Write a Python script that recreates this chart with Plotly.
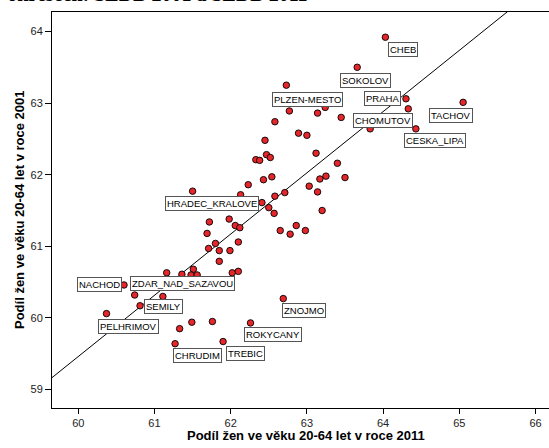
import plotly.graph_objects as go

# ---- data (share of women aged 20-64, %) ----
x2011 = [64.03, 63.66, 64.30, 65.05, 64.43, 63.83, 62.73, 62.41, 60.60, 61.16, 60.81, 60.37,
         62.69, 62.26, 61.90, 61.27,
         64.33, 62.77, 63.14, 63.24, 63.45, 62.58, 62.89, 63.00, 62.45, 63.12, 62.47, 62.52,
         62.33, 62.38, 63.40, 62.54, 62.43, 63.25, 63.17, 63.50, 62.23, 63.03, 61.50, 62.13,
         62.71, 63.14, 62.58, 62.50, 62.57, 63.20, 61.98, 61.72, 61.69, 62.06, 62.12, 62.65,
         62.78, 62.86, 62.98, 61.80, 61.71, 61.85, 61.99, 62.10, 61.85, 61.36, 61.51, 61.48,
         61.56, 62.02, 62.10, 60.74, 61.11, 61.76, 61.49, 61.33]
y2001 = [63.92, 63.50, 63.06, 63.01, 62.64, 62.64, 63.25, 61.61, 60.46, 60.63, 60.17, 60.06,
         60.27, 59.93, 59.67, 59.64,
         62.92, 62.89, 62.86, 62.94, 62.80, 62.74, 62.58, 62.55, 62.48, 62.30, 62.28, 62.24,
         62.21, 62.20, 62.16, 61.97, 61.93, 61.98, 61.94, 61.96, 61.86, 61.84, 61.77, 61.72,
         61.75, 61.76, 61.70, 61.54, 61.46, 61.50, 61.38, 61.34, 61.18, 61.29, 61.26, 61.22,
         61.17, 61.29, 61.22, 61.04, 60.97, 60.94, 60.94, 61.06, 60.79, 60.61, 60.68, 60.60,
         60.60, 60.63, 60.65, 60.32, 60.30, 59.95, 59.94, 59.85]
labels = ["CHEB", "SOKOLOV", "PRAHA", "TACHOV", "CESKA_LIPA", "CHOMUTOV", "PLZEN-MESTO",
          "HRADEC_KRALOVE", "NACHOD", "ZDAR_NAD_SAZAVOU", "SEMILY", "PELHRIMOV",
          "ZNOJMO", "ROKYCANY", "TREBIC", "CHRUDIM"]
# label box offsets from the point (pixels, right / down)
label_dx = [18, 8, -23, -12, 19, 13, 21, -50, -25, 16, 23, 22, 21, 22, 22, 22]
label_dy = [12, 13, 0, 13, 12, -8, 14, 1, 0, 11, 1, 13, 12, 12, 12, 12]

fit_intercept = 8.161
fit_slope = 0.855
x_range = [59.655, 66.177]
y_range = [58.742, 64.272]
x_ticks = [60, 61, 62, 63, 64, 65, 66]
y_ticks = [59, 60, 61, 62, 63, 64]

fig = go.Figure()
fig.add_trace(go.Scatter(
    x=[x_range[0], x_range[1]],
    y=[fit_intercept + fit_slope * x_range[0], fit_intercept + fit_slope * x_range[1]],
    mode="lines", line=dict(color="black", width=1), hoverinfo="skip", showlegend=False))
fig.add_trace(go.Scatter(
    x=x2011, y=y2001, mode="markers",
    marker=dict(size=6.5, color="#e5262b", line=dict(color="black", width=0.9)),
    showlegend=False, cliponaxis=False))

annotations = []
for i, name in enumerate(labels):
    annotations.append(dict(
        x=x2011[i], y=y2001[i], xref="x", yref="y", text=name, showarrow=False,
        xanchor="center", yanchor="middle", xshift=label_dx[i], yshift=-label_dy[i],
        font=dict(family="Arial, Liberation Sans", size=9.5, color="black"),
        bgcolor="white", bordercolor="#555", borderwidth=1, borderpad=1))

annotations.append(dict(
    x=0.511, y=-0.07, xref="paper", yref="paper", showarrow=False,
    text="<b>Podíl žen ve věku 20-64 let v roce 2011</b>", xanchor="center", yanchor="middle",
    font=dict(family="Arial, Liberation Sans", size=13, color="black")))
annotations.append(dict(
    x=-0.0664, y=0.5, xref="paper", yref="paper", showarrow=False, textangle=-90,
    text="<b>Podíl žen ve věku 20-64 let v roce 2001</b>", xanchor="center", yanchor="middle",
    font=dict(family="Arial, Liberation Sans", size=13, color="black")))
annotations.append(dict(
    x=0.52, y=1.0, xref="paper", yref="paper", showarrow=False,
    text="<b>Podíl žen v okresech: SLDB 2001 a SLDB 2011</b>", xanchor="right", yanchor="middle",
    yshift=18,
    font=dict(family="Liberation Serif, Times New Roman", size=20, color="black")))

fig.update_layout(
    width=549, height=448,
    margin=dict(l=52, r=0, t=12, b=40),
    paper_bgcolor="white", plot_bgcolor="white",
    font=dict(family="Arial, Liberation Sans", size=11, color="#222"),
    annotations=annotations,
    xaxis=dict(range=x_range, tickvals=x_ticks, showgrid=False, zeroline=False,
               showline=True, linecolor="black", linewidth=1, mirror=True,
               ticks="outside", ticklen=5, tickcolor="black", tickwidth=1),
    yaxis=dict(range=y_range, tickvals=y_ticks, showgrid=False, zeroline=False,
               showline=True, linecolor="black", linewidth=1,
               ticks="outside", ticklen=6, tickcolor="black", tickwidth=1),
)

fig.write_html("out.html", config={"displayModeBar": False},
               post_script="document.body.style.margin='0';document.body.style.overflow='hidden';")
